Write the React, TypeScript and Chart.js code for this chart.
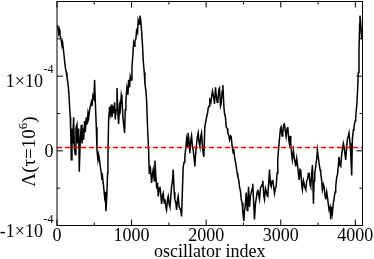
import React, { useEffect, useRef } from "react";
import { Chart, registerables } from "chart.js";

Chart.register(...registerables);

// Λ values are given in units of 1e-4
const traceSegmentA: [number, number][] = [
  [0, 1.68], [13, 1.66], [22, 1.58], [31, 1.62], [40, 1.55], [53, 1.5], [67, 1.41], [75, 1.45], [89, 1.33], [102, 1.2],
  [111, 1.12], [125, 1.05], [134, 0.99], [147, 0.9], [156, 0.81], [165, 0.66], [178, 0.45], [183, 0.28], [192, -0.12], [201, 0.3],
  [210, 0.1], [223, 0.45], [232, 0.05], [245, -0.05], [254, 0.3], [268, 0.35], [276, 0.1], [290, 0.3], [299, -0.28], [312, 0.15],
  [326, 0.35], [335, 0.1], [348, 0.3], [357, 0.15], [370, 0.4], [379, 0.25], [393, 0.45], [402, 0.35], [415, 0.5], [424, 0.44],
  [437, 0.55], [446, 0.59], [460, 0.65], [469, 0.6], [482, 0.74], [495, 0.7], [504, 0.95], [513, 0.67], [527, 0.32], [536, 0.01],
  [549, -0.12], [558, -0.05], [567, -0.1], [580, -0.21], [594, -0.3], [603, -0.39], [611, -0.35], [625, -0.48], [638, -0.61], [647, -0.55],
  [656, -0.81], [670, -0.56], [678, -0.3], [683, -0.08], [692, 0.41], [705, 0.59], [714, 0.5], [728, 0.62], [737, 0.45], [750, 0.6],
  [759, 0.5], [772, 0.65], [781, 0.42], [795, 0.55], [804, 0.84], [817, 0.5], [826, 0.36], [839, 0.6], [848, 0.55], [862, 0.75],
  [871, 0.7], [884, 0.45], [893, 0.36], [906, 0.24], [915, 0.55], [924, 0.68], [937, 0.84], [951, 0.75], [960, 0.95], [973, 0.85],
  [982, 1.0], [996, 0.95], [1005, 1.12], [1018, 1.3], [1027, 1.44],
];

const traceSegmentB: [number, number][] = [
  [1036, 1.4], [1045, 1.47], [1058, 1.5], [1067, 1.61], [1080, 1.58], [1089, 1.75], [1103, 1.7], [1112, 1.81], [1121, 1.76], [1134, 1.61],
  [1147, 1.4], [1156, 1.21], [1170, 1.05], [1179, 0.9], [1192, 0.8], [1201, 0.68], [1214, 0.32], [1228, 0.01], [1237, -0.3], [1246, -0.2],
  [1254, -0.24], [1268, -0.43], [1281, -0.3], [1290, -0.25], [1304, -0.4], [1313, -0.13], [1326, -0.35], [1335, -0.48], [1348, -0.45], [1357, -0.61],
  [1371, -0.5], [1380, -0.48], [1393, -0.6], [1402, -0.71], [1415, -0.6], [1424, -0.57], [1438, -0.7], [1447, -0.65], [1460, -0.75], [1469, -0.79],
  [1482, -0.65], [1491, -0.61], [1505, -0.72], [1514, -0.75], [1527, -0.6], [1536, -0.48], [1549, -0.4], [1558, -0.25], [1571, -0.55], [1580, -0.65],
  [1594, -0.7], [1603, -0.79], [1616, -0.65], [1625, -0.61], [1638, -0.75], [1647, -0.75], [1661, -0.8], [1670, -0.88], [1683, -0.48], [1692, -0.21],
  [1705, -0.15], [1714, -0.08], [1728, 0.05], [1737, 0.15], [1750, 0.05], [1759, 0.24], [1772, 0.1], [1781, -0.03], [1795, 0.15], [1804, 0.2],
  [1817, 0.05], [1826, 0.01], [1839, -0.1], [1848, -0.21], [1862, 0.0], [1871, 0.1], [1884, 0.2], [1893, 0.24], [1906, 0.1], [1915, 0.06],
  [1929, 0.2], [1938, 0.24], [1951, 0.05], [1960, -0.03], [1969, -0.08], [1982, 0.32], [1996, 0.4], [2005, 0.45], [2018, 0.5], [2027, 0.57],
  [2040, 0.6], [2049, 0.68], [2063, 0.65], [2072, 0.72], [2085, 0.8],
];

const traceSegmentC: [number, number][] = [
  [2103, 0.7], [2112, 0.63], [2125, 0.85], [2134, 0.75], [2148, 0.65], [2157, 0.68], [2170, 0.82], [2179, 0.84], [2192, 0.6], [2201, 0.63],
  [2215, 0.8], [2224, 0.88], [2237, 0.6], [2246, 0.5], [2259, 0.45], [2268, 0.32], [2282, 0.3], [2291, 0.24], [2304, 0.2], [2313, 0.15],
  [2326, 0.2], [2335, 0.19], [2349, 0.06], [2362, -0.03], [2371, 0.02], [2380, -0.08], [2394, -0.15], [2403, -0.21], [2416, -0.3], [2425, -0.35],
  [2438, -0.4], [2447, -0.48], [2461, -0.55], [2470, -0.65], [2483, -0.7], [2492, -0.83], [2505, -0.94], [2514, -0.8], [2523, -0.75], [2537, -0.56],
  [2550, -0.8], [2559, -0.7], [2568, -0.48], [2581, -0.75], [2594, -0.6], [2603, -0.57], [2617, -0.5], [2625, -0.44], [2639, -0.75], [2648, -0.92],
  [2661, -0.7], [2670, -0.65], [2684, -0.55], [2693, -0.52], [2706, -0.6], [2715, -0.65], [2728, -0.5], [2737, -0.48], [2751, -0.45], [2759, -0.4],
  [2773, -0.6], [2782, -0.65], [2795, -0.5], [2804, -0.53], [2817, -0.6], [2826, -0.61], [2840, -0.4], [2849, -0.25], [2862, -0.45], [2871, -0.48],
  [2884, -0.4], [2893, -0.39], [2907, -0.5], [2916, -0.57], [2929, -0.5], [2938, -0.48], [2951, -0.3], [2960, -0.12], [2973, 0.05], [2982, 0.15],
  [2996, 0.3], [3005, 0.32], [3018, 0.2], [3027, 0.24], [3040, 0.35], [3049, 0.36], [3063, 0.25], [3072, 0.19], [3085, 0.3], [3094, 0.32],
  [3107, 0.15], [3116, 0.1],
];

const traceSegmentD: [number, number][] = [
  [3125, 0.2], [3134, 0.1], [3147, -0.05], [3156, -0.12], [3170, 0.0], [3179, -0.08], [3192, -0.15], [3201, -0.21], [3214, -0.1], [3223, -0.17],
  [3237, -0.3], [3246, -0.39], [3259, -0.25], [3268, -0.26], [3281, -0.45], [3290, -0.52], [3304, -0.4], [3313, -0.44], [3326, -0.5], [3335, -0.52],
  [3348, -0.4], [3357, -0.39], [3371, -0.3], [3380, -0.3], [3393, -0.45], [3402, -0.48], [3415, -0.3], [3425, -0.19], [3433, -0.5], [3438, -0.71],
  [3447, -0.4], [3456, -0.3], [3469, -0.21], [3482, -0.1], [3491, 0.01], [3505, -0.1], [3514, -0.17], [3527, -0.25], [3536, -0.3], [3549, -0.4],
  [3558, -0.52], [3571, -0.45], [3580, -0.48], [3594, -0.6], [3603, -0.65], [3616, -0.55], [3625, -0.61], [3638, -0.72], [3648, -0.79], [3661, -0.75],
  [3670, -0.92], [3683, -0.75], [3692, -0.83], [3705, -0.7], [3714, -0.65], [3728, -0.55], [3737, -0.48], [3750, -0.35], [3759, -0.33], [3772, -0.2],
  [3781, -0.08], [3795, -0.2], [3804, -0.21], [3817, -0.05], [3826, 0.01], [3839, 0.1], [3848, 0.06], [3862, -0.05], [3871, -0.12], [3884, 0.05],
  [3893, 0.15], [3906, 0.2], [3915, 0.24], [3929, 0.1], [3938, -0.03], [3951, -0.33], [3960, 0.15], [3973, 0.28], [3982, 0.32], [3996, 0.4],
  [4005, 0.45], [4018, 0.6], [4027, 0.74], [4040, 1.05], [4049, 1.35], [4058, 1.7], [4062, 1.81], [4071, 1.72], [4085, 1.5], [4095, 1.62],
];

const referenceLineX = [0, 4096];
const referenceLevel = 0.045;

const xRange = [0, 4096];
const yRange = [-1, 2];
const xMajorTicks = [0, 1000, 2000, 3000, 4000];
const xMinorTicks = [500, 1500, 2500, 3500];
const xTickLabels = ["0", "1000", "2000", "3000", "4000"];
const yMajorTicks = [-1, 0, 1, 2];
const yMinorTicks = [-0.5, 0.5, 1.5];
const yLabelValues = [1, 0, -1];
const yLabelMantissas = ["1×10", "0", "-1×10"];
const yLabelExponents = ["-4", "", "-4"];
const xTitle = "oscillator index";
const yTitleMain = "Λ(τ=10";
const yTitleSup = "6";
const yTitleEnd = ")";

const SERIF = '"Liberation Serif", "Times New Roman", serif';

const framePlugin = {
  id: "xmgraceFrame",
  afterDatasetsDraw(chart: any) {
    const ctx = chart.ctx as CanvasRenderingContext2D;
    const { left, right, top, bottom } = chart.chartArea;
    const xs = chart.scales.x;
    const ys = chart.scales.y;
    ctx.save();
    ctx.strokeStyle = "#000";
    ctx.lineWidth = 1;
    ctx.strokeRect(left, top, right - left, bottom - top);
    ctx.beginPath();
    const major = 6;
    const minor = 3;
    xMajorTicks.forEach((v) => {
      const p = xs.getPixelForValue(v);
      ctx.moveTo(p, bottom); ctx.lineTo(p, bottom - major);
      ctx.moveTo(p, top); ctx.lineTo(p, top + major);
    });
    xMinorTicks.forEach((v) => {
      const p = xs.getPixelForValue(v);
      ctx.moveTo(p, bottom); ctx.lineTo(p, bottom - minor);
      ctx.moveTo(p, top); ctx.lineTo(p, top + minor);
    });
    yMajorTicks.forEach((v) => {
      const p = ys.getPixelForValue(v);
      ctx.moveTo(left, p); ctx.lineTo(left + major, p);
      ctx.moveTo(right, p); ctx.lineTo(right - major, p);
    });
    yMinorTicks.forEach((v) => {
      const p = ys.getPixelForValue(v);
      ctx.moveTo(left, p); ctx.lineTo(left + minor, p);
      ctx.moveTo(right, p); ctx.lineTo(right - minor, p);
    });
    ctx.stroke();

    ctx.fillStyle = "#000";
    ctx.font = `18px ${SERIF}`;
    ctx.textAlign = "center";
    ctx.textBaseline = "alphabetic";
    xMajorTicks.forEach((v, i) => {
      ctx.fillText(xTickLabels[i], xs.getPixelForValue(v), bottom + 15);
    });
    ctx.fillText(xTitle, (left + right) / 2, bottom + 31);

    const labelRight = left - 3.5;
    yLabelValues.forEach((v, i) => {
      const p = ys.getPixelForValue(v);
      const exp = yLabelExponents[i];
      ctx.textAlign = "right";
      if (exp) {
        ctx.font = `12px ${SERIF}`;
        const w = ctx.measureText(exp).width;
        ctx.fillText(exp, labelRight, p - 3);
        ctx.font = `18px ${SERIF}`;
        ctx.fillText(yLabelMantissas[i], labelRight - w - 0.5, p + 11);
      } else {
        ctx.font = `18px ${SERIF}`;
        ctx.fillText(yLabelMantissas[i], labelRight, p + 6);
      }
    });

    ctx.save();
    ctx.translate(35, (top + bottom) / 2 + 38);
    ctx.rotate(-Math.PI / 2);
    ctx.textAlign = "left";
    ctx.font = `19px ${SERIF}`;
    const w1 = ctx.measureText(yTitleMain).width;
    const w3 = ctx.measureText(yTitleEnd).width;
    ctx.font = `13px ${SERIF}`;
    const w2 = ctx.measureText(yTitleSup).width;
    const x0 = -(w1 + w2 + w3) / 2;
    ctx.font = `19px ${SERIF}`;
    ctx.fillText(yTitleMain, x0, 0);
    ctx.font = `13px ${SERIF}`;
    ctx.fillText(yTitleSup, x0 + w1, -8);
    ctx.font = `19px ${SERIF}`;
    ctx.fillText(yTitleEnd, x0 + w1 + w2, 0);
    ctx.restore();

    ctx.restore();
  },
};

export default function App() {
  const canvasRef = useRef<HTMLCanvasElement | null>(null);

  useEffect(() => {
    const canvas = canvasRef.current;
    if (!canvas) return;
    const trace = [...traceSegmentA, ...traceSegmentB, ...traceSegmentC, ...traceSegmentD].map(
      ([x, y]) => ({ x, y })
    );
    const refLine = referenceLineX.map((x) => ({ x, y: referenceLevel }));
    const chart = new Chart(canvas, {
      type: "line",
      data: {
        datasets: [
          {
            data: refLine,
            borderColor: "#ff0000",
            borderWidth: 1.5,
            borderDash: [5, 3],
            pointRadius: 0,
            fill: false,
          },
          {
            data: trace,
            borderColor: "#000000",
            borderWidth: 1.5,
            pointRadius: 0,
            tension: 0,
            fill: false,
          },
        ],
      },
      options: {
        responsive: false,
        animation: false,
        devicePixelRatio: 1,
        layout: { padding: { left: 57, right: 11.5, top: 1.5, bottom: 33.5 } },
        plugins: { legend: { display: false }, tooltip: { enabled: false } },
        scales: {
          x: { type: "linear", min: xRange[0], max: xRange[1], display: false },
          y: { type: "linear", min: yRange[0], max: yRange[1], display: false },
        },
      },
      plugins: [framePlugin],
    });
    return () => chart.destroy();
  }, []);

  return (
    <div style={{ position: "absolute", left: 0, top: 0, width: 374, height: 259, background: "#fff" }}>
      <canvas ref={canvasRef} width={374} height={259} style={{ width: 374, height: 259 }} />
    </div>
  );
}
